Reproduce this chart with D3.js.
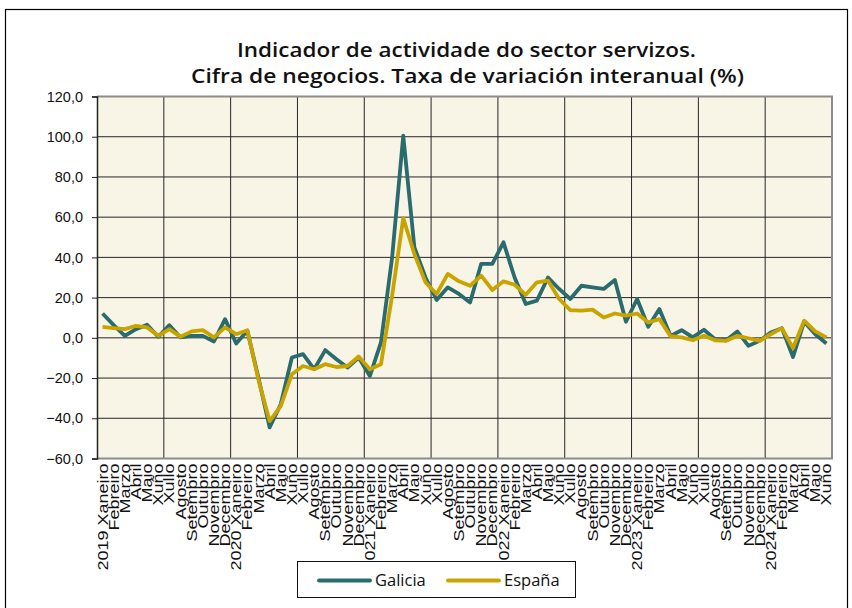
<!DOCTYPE html>
<html>
<head>
<meta charset="utf-8">
<script src="https://cdn.jsdelivr.net/npm/d3@7"></script>
<style>
  body { margin: 0; background: #fff; }
  svg { display: block; }
</style>
</head>
<body>
<div id="chart"></div>
<script>
// Data
var years = ['2019', '2020', '2021', '2022', '2023', '2024'];
var monthNames = ['Xaneiro', 'Febreiro', 'Marzo', 'Abril', 'Maio', 'Xuño',
                  'Xullo', 'Agosto', 'Setembro', 'Outubro', 'Novembro', 'Decembro'];
var monthsInLastYear = 6;

var galicia = [
  12.1, 6.3, 1.0, 4.3, 6.5, 0.5, 6.3, 0.2, 1.0, 1.0, -1.8, 9.3,
  -2.8, 3.5, -20.0, -44.5, -33.0, -9.8, -8.1, -15.6, -6.1, -10.6, -14.8, -9.8,
  -19.0, -2.3, 40.0, 100.5, 45.0, 30.0, 18.8, 25.1, 21.8, 17.6, 36.8, 36.8,
  47.5, 30.0, 16.8, 18.5, 30.0, 24.3, 19.3, 25.9, 25.1, 24.3, 28.8, 8.0,
  19.3, 5.5, 14.3, 1.0, 3.8, 0.2, 4.0, -0.7, -1.2, 3.2, -4.0, -1.5,
  2.7, 4.8, -9.5, 8.0, 1.8, -2.8
];
var espana = [
  5.5, 4.8, 4.3, 6.0, 5.2, 1.0, 4.3, 0.5, 3.2, 3.8, 0.2, 5.2,
  1.8, 3.8, -21.0, -41.4, -34.0, -18.1, -14.0, -15.6, -13.1, -14.5, -14.0, -9.3,
  -15.6, -13.1, 21.0, 59.5, 41.7, 27.6, 21.8, 31.8, 28.1, 25.9, 30.9, 23.8,
  28.1, 26.4, 21.4, 27.6, 28.4, 19.3, 13.8, 13.5, 14.0, 10.1, 12.1, 11.0,
  12.1, 7.6, 9.3, 0.8, 0.2, -1.2, 1.0, -1.2, -1.5, 1.0, -0.2, -1.5,
  1.8, 4.8, -5.1, 8.5, 3.2, 0.2
];
var yTicks = [-60, -40, -20, 0, 20, 40, 60, 80, 100, 120];

// Build category labels
var labels = [];
years.forEach(function(yr, k) {
  var n = (k === years.length - 1) ? monthsInLastYear : 12;
  for (var m = 0; m < n; m++) {
    labels.push(m === 0 ? yr + ' ' + monthNames[m] : monthNames[m]);
  }
});

// Layout constants
var width = 852,
    height = 608,
    plotLeft = 97,
    plotRight = 832,
    plotTop = 96.5,
    plotBottom = 458.5,
    galiciaColor = '#2a6b6e',
    espanaColor = '#c9a400',
    gridColor = '#262626',
    plotBg = '#f8f4e6',
    titleFont = '"Open Sans", "Noto Sans", sans-serif',
    axisFont = '"Liberation Sans", Arial, sans-serif';

var svg = d3.select('#chart').append('svg')
    .attr('width', width)
    .attr('height', height);

// outer frame
svg.append('rect')
   .attr('x', 5.5).attr('y', 9.5)
   .attr('width', 842).attr('height', 620)
   .attr('fill', '#fff')
   .attr('stroke', '#000')
   .attr('stroke-width', 1.2);

var x = d3.scaleBand()
    .domain(d3.range(labels.length))
    .range([plotLeft, plotRight])
    .padding(0);

var y = d3.scaleLinear()
    .domain([-60, 120])
    .range([plotBottom, plotTop]);

var cx = function(i) { return x(i) + x.bandwidth() / 2; };

// plot background
svg.append('rect')
   .attr('x', plotLeft).attr('y', plotTop)
   .attr('width', plotRight - plotLeft).attr('height', plotBottom - plotTop)
   .attr('fill', plotBg);

// horizontal gridlines
svg.append('g')
   .selectAll('line')
   .data(yTicks.slice(1, -1))
   .enter().append('line')
   .attr('x1', plotLeft).attr('x2', plotRight)
   .attr('y1', function(d) { return y(d); })
   .attr('y2', function(d) { return y(d); })
   .attr('stroke', gridColor)
   .attr('stroke-width', 1);

// vertical gridlines every 6 months
var vTicks = d3.range(6, labels.length, 6);
svg.append('g')
   .selectAll('line')
   .data(vTicks)
   .enter().append('line')
   .attr('x1', function(d) { return x(d); })
   .attr('x2', function(d) { return x(d); })
   .attr('y1', plotTop).attr('y2', plotBottom)
   .attr('stroke', gridColor)
   .attr('stroke-width', 1);

// plot border (top / right / bottom gray)
svg.append('path')
   .attr('d', 'M' + plotLeft + ',' + plotTop + 'H' + plotRight + 'V' + plotBottom + 'H' + plotLeft)
   .attr('fill', 'none')
   .attr('stroke', '#8c8c8c')
   .attr('stroke-width', 2);

// y axis
var yAxis = svg.append('g')
   .attr('transform', 'translate(' + plotLeft + ',0)')
   .call(d3.axisLeft(y).tickValues(yTicks).tickSize(5).tickPadding(9)
     .tickFormat(function(d) { return d3.format('.1f')(d).replace('.', ','); }));
yAxis.select('.domain').attr('stroke', '#222').attr('stroke-width', 1.5);
yAxis.selectAll('.tick line').attr('stroke', '#222');
yAxis.selectAll('text')
     .attr('font-family', axisFont)
     .attr('font-size', '14.5px')
     .attr('fill', '#111');

// x labels (rotated)
svg.append('g')
   .selectAll('text')
   .data(labels)
   .enter().append('text')
   .attr('transform', function(d, i) {
     return 'translate(' + cx(i) + ',' + (plotBottom + 5) + ') rotate(-90) scale(1,0.78)';
   })
   .attr('text-anchor', 'end')
   .attr('dy', '0.36em')
   .attr('font-family', axisFont)
   .attr('font-size', '18px')
   .attr('fill', '#111')
   .text(function(d) { return d; });

// series lines
var line = d3.line()
    .x(function(d, i) { return cx(i); })
    .y(function(d) { return y(d); });

svg.append('path')
   .datum(galicia)
   .attr('d', line)
   .attr('fill', 'none')
   .attr('stroke', galiciaColor)
   .attr('stroke-width', 3.8)
   .attr('stroke-linejoin', 'round');

svg.append('path')
   .datum(espana)
   .attr('d', line)
   .attr('fill', 'none')
   .attr('stroke', espanaColor)
   .attr('stroke-width', 3.8)
   .attr('stroke-linejoin', 'round');

// title
var title = svg.append('text')
   .attr('text-anchor', 'middle')
   .attr('font-family', titleFont)
   .attr('font-weight', 600)
   .attr('font-size', '20.5px')
   .attr('fill', '#111');
title.append('tspan').attr('x', 466.5).attr('y', 56.5)
     .attr('textLength', 459).attr('lengthAdjust', 'spacingAndGlyphs')
     .text('Indicador de actividade do sector servizos.');
title.append('tspan').attr('x', 467.5).attr('y', 82.5)
     .attr('textLength', 553).attr('lengthAdjust', 'spacingAndGlyphs')
     .text('Cifra de negocios. Taxa de variación interanual (%)');

// legend
var legend = svg.append('g');
legend.append('rect')
   .attr('x', 297.5).attr('y', 561.5)
   .attr('width', 278).attr('height', 36)
   .attr('fill', '#fff')
   .attr('stroke', '#111')
   .attr('stroke-width', 1);

var legendItems = [
  { name: 'Galicia', color: galiciaColor, x: 319 },
  { name: 'España', color: espanaColor, x: 448 }
];
legendItems.forEach(function(item) {
  legend.append('line')
     .attr('x1', item.x).attr('x2', item.x + 51)
     .attr('y1', 580.5).attr('y2', 580.5)
     .attr('stroke', item.color)
     .attr('stroke-width', 3.8)
     .attr('stroke-linecap', 'round');
  legend.append('text')
     .attr('x', item.x + 56).attr('y', 586)
     .attr('font-family', titleFont)
     .attr('font-size', '16.5px')
     .attr('fill', '#111')
     .text(item.name);
});
</script>
</body>
</html>
